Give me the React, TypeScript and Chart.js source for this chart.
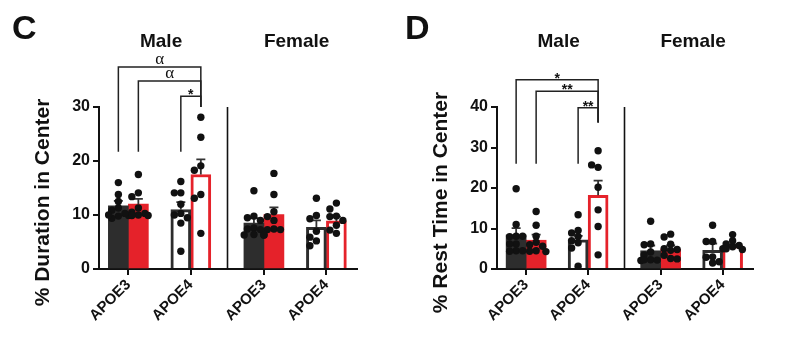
import React, { useEffect, useRef } from "react";
import { Chart, registerables } from "chart.js";

Chart.register(...registerables);

// ---------- shared categories ----------
const GROUP_LABELS = ["APOE3", "APOE4", "APOE3", "APOE4"];
const GROUP_POS = [0, 1, 2.17, 3.17];
const FILLED = [true, false, true, false];
const SEX_LABELS = ["Male", "Female"];
const SEX_CENTER = [0.5, 2.67];
const DIVIDER_POS = 1.58;

// ---------- Panel C: % Duration in Center ----------
const C_TITLE = "% Duration in Center";
const C_Y_MAX = 30;
const C_Y_STEP = 10;
const C_A_MEAN = [11.7, 11.0, 8.5, 7.7];
const C_A_SEM = [0.9, 1.4, 0.9, 1.3];
const C_B_MEAN = [12.0, 17.5, 10.1, 8.9];
const C_B_SEM = [1.0, 2.8, 1.3, 0.8];
const C_A_PTS = [
  [16.0, 13.8, 12.5, 11.3, 10.9, 10.3, 9.8, 9.4, 10.0],
  [16.2, 14.1, 14.1, 12.0, 10.3, 10.0, 9.5, 8.5, 3.3],
  [14.5, 9.8, 9.5, 9.0, 7.6, 7.4, 7.3, 6.4, 6.3, 6.3],
  [13.1, 9.9, 9.3, 7.0, 5.9, 5.2, 4.3],
];
const C_B_PTS = [
  [17.5, 14.1, 13.4, 11.3, 10.5, 10.3, 10.0, 9.9, 9.9, 9.9],
  [28.1, 24.4, 19.1, 18.3, 13.8, 13.1, 6.6],
  [17.7, 13.8, 10.6, 9.7, 9.0, 7.4, 7.3, 7.3, 6.3],
  [12.2, 11.1, 9.8, 9.7, 9.0, 8.1, 7.2, 6.6],
];
const C_SIG_LABELS = ["α", "α", "*"];
const C_SIG_LEVEL = [37.4, 34.8, 32.0];
const C_SIG_FROM_GROUP = [0, 0, 1];
const C_SIG_FROM_SERIES = [0, 1, 0];
const C_SIG_LEG_END = 21.7;
const C_SIG_RIGHT_END = 30;

// ---------- Panel D: % Rest Time in Center ----------
const D_TITLE = "% Rest Time in Center";
const D_Y_MAX = 40;
const D_Y_STEP = 10;
const D_A_MEAN = [8.4, 7.2, 4.5, 4.6];
const D_A_SEM = [1.7, 1.0, 1.3, 1.7];
const D_B_MEAN = [7.1, 18.2, 4.9, 5.8];
const D_B_SEM = [1.4, 3.6, 0.9, 0.3];
const D_A_PTS = [
  [19.8, 11.0, 8.1, 8.0, 8.1, 6.2, 6.2, 4.5, 4.4, 4.5],
  [13.4, 9.5, 8.9, 8.0, 6.5, 7.0, 5.2, 0.7],
  [11.8, 6.2, 6.0, 4.2, 3.5, 2.3, 2.2, 2.1, 2.3],
  [10.8, 6.8, 6.8, 3.0, 2.9, 1.8, 1.5],
];
const D_B_PTS = [
  [14.2, 10.8, 8.1, 6.6, 6.0, 5.6, 4.5, 4.4, 4.3],
  [29.2, 25.1, 25.7, 20.2, 14.6, 10.5, 3.5],
  [8.6, 7.9, 6.1, 5.0, 4.8, 4.6, 3.4, 2.6, 2.5],
  [8.5, 7.0, 6.2, 5.8, 5.5, 5.0, 4.8, 5.0],
];
const D_SIG_LABELS = ["*", "**", "**"];
const D_SIG_LEVEL = [46.7, 43.9, 39.8];
const D_SIG_FROM_GROUP = [0, 0, 1];
const D_SIG_FROM_SERIES = [0, 1, 0];
const D_SIG_LEG_END = 26.0;
const D_SIG_RIGHT_END = 36.2;

// ---------- styling ----------
const DARK = "#2d2d2d";
const RED = "#e5222a";
const INK = "#111111";
const SANS = '"Liberation Sans", Arial, Helvetica, sans-serif';
const SERIF = '"Liberation Serif", "Times New Roman", serif';
const DOT_R = 3.7;

type PanelCfg = {
  letter: string;
  title: string;
  yMax: number;
  yStep: number;
  mean: number[][];
  sem: number[][];
  pts: number[][][];
  sigLabels: string[];
  sigLevel: number[];
  sigFromGroup: number[];
  sigFromSeries: number[];
  sigLegEnd: number;
  sigRightEnd: number;
  left: number;
  width: number;
  yAxisW: number;
  rightPad: number;
};

const PANELS: PanelCfg[] = [
  {
    letter: "C", title: C_TITLE, yMax: C_Y_MAX, yStep: C_Y_STEP,
    mean: [C_A_MEAN, C_B_MEAN], sem: [C_A_SEM, C_B_SEM], pts: [C_A_PTS, C_B_PTS],
    sigLabels: C_SIG_LABELS, sigLevel: C_SIG_LEVEL, sigFromGroup: C_SIG_FROM_GROUP,
    sigFromSeries: C_SIG_FROM_SERIES, sigLegEnd: C_SIG_LEG_END, sigRightEnd: C_SIG_RIGHT_END,
    left: 0, width: 393, yAxisW: 99, rightPad: 36,
  },
  {
    letter: "D", title: D_TITLE, yMax: D_Y_MAX, yStep: D_Y_STEP,
    mean: [D_A_MEAN, D_B_MEAN], sem: [D_A_SEM, D_B_SEM], pts: [D_A_PTS, D_B_PTS],
    sigLabels: D_SIG_LABELS, sigLevel: D_SIG_LEVEL, sigFromGroup: D_SIG_FROM_GROUP,
    sigFromSeries: D_SIG_FROM_SERIES, sigLegEnd: D_SIG_LEG_END, sigRightEnd: D_SIG_RIGHT_END,
    left: 393, width: 394, yAxisW: 104, rightPad: 34,
  },
];

const HEIGHT = 342;
const X_AXIS_H = 73;
const TOP_PAD = 107;

function Panel({ cfg }: { cfg: PanelCfg }) {
  const ref = useRef<HTMLCanvasElement | null>(null);

  useEffect(() => {
    const canvas = ref.current;
    if (!canvas) return;
    const seriesColor = [DARK, RED];

    const annot = {
      id: "annot",
      afterDatasetDraw(chart: any, args: any) {
        const s = args.index;
        if (s > 1) return;
        const ctx = chart.ctx;
        const ys = chart.scales.y;
        ctx.save();
        ctx.strokeStyle = "#333333";
        ctx.lineWidth = 1.8;
        args.meta.data.forEach((el: any, g: number) => {
          const top = ys.getPixelForValue(cfg.mean[s][g] + cfg.sem[s][g]);
          ctx.beginPath();
          ctx.moveTo(el.x, el.y);
          ctx.lineTo(el.x, top);
          ctx.moveTo(el.x - 4.5, top);
          ctx.lineTo(el.x + 4.5, top);
          ctx.stroke();
        });
        ctx.restore();
      },
      afterDraw(chart: any) {
        const ctx = chart.ctx;
        const xs = chart.scales.x;
        const ys = chart.scales.y;
        const area = chart.chartArea;
        ctx.save();
        // divider between sexes
        ctx.strokeStyle = INK;
        ctx.lineWidth = 1.6;
        const dx = Math.round(xs.getPixelForValue(DIVIDER_POS)) + 0.5;
        ctx.beginPath();
        ctx.moveTo(dx, ys.getPixelForValue(cfg.yMax));
        ctx.lineTo(dx, ys.getPixelForValue(0));
        ctx.stroke();

        // significance brackets
        const toEl = chart.getDatasetMeta(1).data[1];
        const rightX = toEl.x;
        ctx.lineWidth = 1.5;
        ctx.strokeStyle = "#222";
        cfg.sigLabels.forEach((lab, i) => {
          const fromEl = chart.getDatasetMeta(cfg.sigFromSeries[i]).data[cfg.sigFromGroup[i]];
          const lx = fromEl.x;
          const yl = ys.getPixelForValue(cfg.sigLevel[i]);
          ctx.beginPath();
          ctx.moveTo(lx, ys.getPixelForValue(cfg.sigLegEnd));
          ctx.lineTo(lx, yl);
          ctx.lineTo(rightX, yl);
          ctx.lineTo(rightX, ys.getPixelForValue(cfg.sigRightEnd));
          ctx.stroke();
          const isStar = lab.indexOf("*") >= 0;
          ctx.fillStyle = INK;
          ctx.textAlign = "center";
          ctx.textBaseline = "alphabetic";
          ctx.font = isStar ? `bold 14px ${SANS}` : `17px ${SERIF}`;
          ctx.fillText(lab, (lx + rightX) / 2, yl + (isStar ? 3 : -3));
        });

        // sex headers
        ctx.fillStyle = INK;
        ctx.font = `bold 19px ${SANS}`;
        ctx.textAlign = "center";
        ctx.textBaseline = "alphabetic";
        SEX_LABELS.forEach((lab, i) => {
          ctx.fillText(lab, xs.getPixelForValue(SEX_CENTER[i]) + 1.5, 47);
        });

        // panel letter
        ctx.font = `bold 34px ${SANS}`;
        ctx.textAlign = "left";
        ctx.fillText(cfg.letter, 12, 39);

        // y-axis title
        ctx.save();
        ctx.translate(area.left - 55.5, area.bottom - 66.5);
        ctx.rotate(-Math.PI / 2);
        ctx.font = `bold 21px ${SANS}`;
        ctx.textAlign = "center";
        ctx.textBaseline = "middle";
        ctx.fillText(cfg.title, 0, 0);
        ctx.restore();

        ctx.restore();
      },
    };

    const barDatasets = [0, 1].map((s) => ({
      type: "bar" as const,
      order: 1,
      data: GROUP_POS.map((x, g) => ({ x, y: cfg.mean[s][g] })),
      backgroundColor: FILLED.map((f) => (f ? seriesColor[s] : "#ffffff")),
      borderColor: seriesColor[s],
      borderWidth: FILLED.map((f) => (f ? 0 : 3)),
      borderSkipped: "bottom" as const,
      barThickness: 20,
    }));
    const dotDatasets = [0, 1].map(() => ({
      type: "scatter" as const,
      order: 0,
      data: [] as { x: number; y: number }[],
      pointRadius: DOT_R,
      pointHoverRadius: DOT_R,
      pointBackgroundColor: INK,
      pointBorderWidth: 0,
    }));

    const chart = new Chart(canvas, {
      type: "bar",
      data: { datasets: [...barDatasets, ...dotDatasets] as any },
      options: {
        animation: false,
        responsive: false,
        maintainAspectRatio: false,
        events: [],
        layout: { padding: { top: TOP_PAD, right: cfg.rightPad, left: 0, bottom: 0 } },
        plugins: {
          legend: { display: false },
          tooltip: { enabled: false },
          title: { display: false },
        },
        scales: {
          x: {
            type: "linear",
            min: -0.47,
            max: 3.66,
            offset: false,
            afterBuildTicks: (scale: any) => {
              scale.ticks = GROUP_POS.map((v) => ({ value: v }));
            },
            afterFit: (scale: any) => {
              scale.height = X_AXIS_H;
            },
            grid: {
              display: true,
              drawOnChartArea: false,
              drawTicks: true,
              tickLength: 6,
              color: INK,
              lineWidth: 2,
              offset: false,
            },
            border: { display: true, color: INK, width: 2 },
            ticks: {
              autoSkip: false,
              maxRotation: 45,
              minRotation: 45,
              padding: 1,
              color: INK,
              font: { family: SANS, size: 15, weight: "bold" },
              callback: (_v: any, i: number) => GROUP_LABELS[i],
            },
          },
          y: {
            type: "linear",
            min: 0,
            max: cfg.yMax,
            afterFit: (scale: any) => {
              scale.width = cfg.yAxisW;
            },
            grid: {
              display: true,
              drawOnChartArea: false,
              drawTicks: true,
              tickLength: 6,
              color: INK,
              lineWidth: 2,
            },
            border: { display: true, color: INK, width: 2 },
            ticks: {
              stepSize: cfg.yStep,
              padding: 3,
              color: INK,
              font: { family: SANS, size: 16, weight: "bold" },
            },
          },
        } as any,
      },
      plugins: [annot],
    });

    // compact beeswarm placement of individual animals, in pixel space via the chart's scales
    const xs: any = chart.scales.x;
    const ys: any = chart.scales.y;
    const step = 6.5;
    const minGap = 6;
    const cands = [0, -1, 1, -1.5, 1.5].map((k) => k * step);
    [0, 1].forEach((s) => {
      const meta = chart.getDatasetMeta(s);
      const out: { x: number; y: number }[] = [];
      cfg.pts[s].forEach((vals, g) => {
        const cx = (meta.data[g] as any).x;
        const placed: { x: number; y: number }[] = [];
        vals.forEach((v) => {
          const py = ys.getPixelForValue(v);
          let best = 0;
          let bestD = -1;
          for (const o of cands) {
            let d = Infinity;
            for (const p of placed) d = Math.min(d, Math.hypot(p.x - (cx + o), p.y - py));
            if (d >= minGap) { best = o; bestD = d; break; }
            if (d > bestD) { bestD = d; best = o; }
          }
          placed.push({ x: cx + best, y: py });
          out.push({ x: xs.getValueForPixel(cx + best), y: v });
        });
      });
      (chart.data.datasets[2 + s] as any).data = out;
    });
    chart.update("none");

    return () => chart.destroy();
  }, [cfg]);

  return (
    <canvas
      ref={ref}
      width={cfg.width}
      height={HEIGHT}
      style={{ position: "absolute", left: cfg.left, top: 0, width: cfg.width, height: HEIGHT }}
    />
  );
}

export default function App() {
  return (
    <div
      style={{
        position: "fixed",
        left: 0,
        top: 0,
        width: 787,
        height: HEIGHT,
        background: "#ffffff",
        overflow: "hidden",
      }}
    >
      {PANELS.map((p) => (
        <Panel key={p.letter} cfg={p} />
      ))}
    </div>
  );
}
